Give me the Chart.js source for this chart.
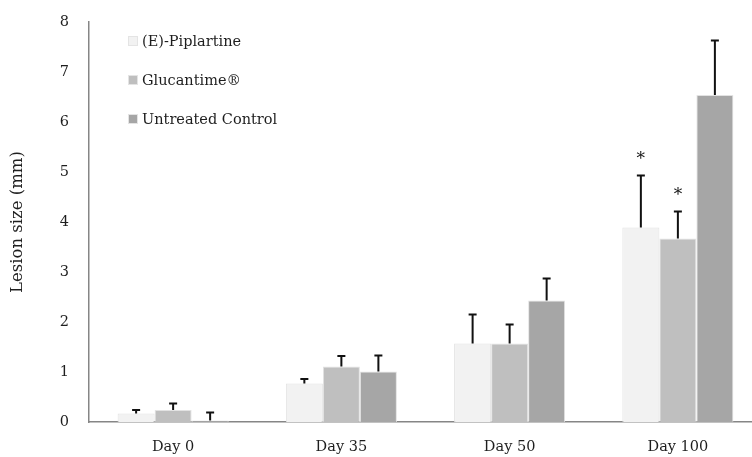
<!DOCTYPE html>
<html>
<head>
<meta charset="utf-8">
<script src="https://cdn.jsdelivr.net/npm/chart.js@4"></script>
<style>
  html, body { margin: 0; padding: 0; background: #fff; overflow: hidden; }
  #wrap { width: 762px; height: 457px; }
</style>
</head>
<body>
<div id="wrap"><canvas id="lesionChart"></canvas></div>
<script>
const days = ["Day 0", "Day 35", "Day 50", "Day 100"];
const seriesNames = ["(E)-Piplartine", "Glucantime®", "Untreated Control"];
const piplartine = [0.17, 0.77, 1.57, 3.89];
const glucantime = [0.24, 1.11, 1.57, 3.67];
const control = [0.03, 1.01, 2.43, 6.54];
const piplartineErr = [0.07, 0.09, 0.58, 1.04];
const glucantimeErr = [0.13, 0.21, 0.38, 0.54];
const controlErr = [0.16, 0.32, 0.44, 1.09];
const piplartineMarks = ["", "", "", "*"];
const glucantimeMarks = ["", "", "", "*"];
const controlMarks = ["", "", "", ""];

const font = "'DejaVu Serif', serif";
const textColor = "#1e1e1e";
const axisColor = "#868686";

// error bars (upper only) + significance stars
const errorBars = {
  id: "errorBars",
  afterDatasetsDraw(chart) {
    const ctx = chart.ctx;
    const y = chart.scales.y;
    ctx.save();
    chart.data.datasets.forEach((ds, i) => {
      const meta = chart.getDatasetMeta(i);
      meta.data.forEach((bar, j) => {
        const top = y.getPixelForValue(ds.data[j] + ds.errors[j]);
        ctx.strokeStyle = "#111";
        ctx.lineWidth = 2;
        ctx.beginPath();
        ctx.moveTo(bar.x, bar.y);
        ctx.lineTo(bar.x, top);
        ctx.moveTo(bar.x - 4, top);
        ctx.lineTo(bar.x + 4, top);
        ctx.stroke();
        if (ds.marks[j]) {
          ctx.fillStyle = "#111";
          ctx.font = "17px " + font;
          ctx.textAlign = "center";
          ctx.textBaseline = "middle";
          ctx.fillText(ds.marks[j], bar.x, top - 16);
        }
      });
    });
    ctx.restore();
  },
};

// legend drawn inside the plot, top-left
const innerLegend = {
  id: "innerLegend",
  afterDraw(chart) {
    const ctx = chart.ctx;
    const area = chart.chartArea;
    ctx.save();
    chart.data.datasets.forEach((ds, i) => {
      const cy = area.top + 19 + i * 39;
      const bx = area.left + 39;
      ctx.fillStyle = ds.backgroundColor;
      ctx.fillRect(bx, cy - 5, 10, 10);
      ctx.strokeStyle = "#e4e4e4";
      ctx.lineWidth = 1;
      ctx.strokeRect(bx + 0.5, cy - 4.5, 9, 9);
      ctx.fillStyle = textColor;
      ctx.font = "14.5px " + font;
      ctx.textAlign = "left";
      ctx.textBaseline = "middle";
      ctx.fillText(ds.label, bx + 14, cy + 1);
    });
    ctx.restore();
  },
};

new Chart(document.getElementById("lesionChart"), {
  type: "bar",
  data: {
    labels: days,
    datasets: [
      {
        label: seriesNames[0],
        data: piplartine,
        errors: piplartineErr,
        marks: piplartineMarks,
        backgroundColor: "#f2f2f2",
        borderColor: "#e2e2e2",
        borderWidth: 1,
      },
      {
        label: seriesNames[1],
        data: glucantime,
        errors: glucantimeErr,
        marks: glucantimeMarks,
        backgroundColor: "#bfbfbf",
        borderColor: "#e2e2e2",
        borderWidth: 1,
      },
      {
        label: seriesNames[2],
        data: control,
        errors: controlErr,
        marks: controlMarks,
        backgroundColor: "#a6a6a6",
        borderColor: "#e2e2e2",
        borderWidth: 1,
      },
    ],
  },
  options: {
    responsive: true,
    maintainAspectRatio: false,
    animation: false,
    categoryPercentage: 0.66,
    barPercentage: 1.0,
    layout: {
      padding: { top: 22, right: 0, left: 2, bottom: 0 },
    },
    plugins: {
      legend: { display: false },
      tooltip: { enabled: false },
    },
    scales: {
      x: {
        grid: { display: false, drawTicks: false },
        border: { display: true, color: axisColor, width: 1.5 },
        ticks: {
          color: textColor,
          font: { family: font, size: 14.5 },
          padding: 17,
        },
        afterFit(scale) {
          scale.height = 35;
        },
      },
      y: {
        min: 0,
        max: 8,
        grid: { display: false, drawTicks: false },
        border: { display: true, color: axisColor, width: 1.5 },
        ticks: {
          stepSize: 1,
          color: textColor,
          font: { family: font, size: 14.5 },
          padding: 20,
        },
        title: {
          display: true,
          text: "Lesion size (mm)",
          color: textColor,
          font: { family: font, size: 16.5 },
          padding: { top: 6, bottom: 12 },
        },
        afterFit(scale) {
          scale.width = 87;
          scale.paddingTop = 0;
          scale.paddingBottom = 0;
        },
      },
    },
  },
  plugins: [errorBars, innerLegend],
});
</script>
</body>
</html>
